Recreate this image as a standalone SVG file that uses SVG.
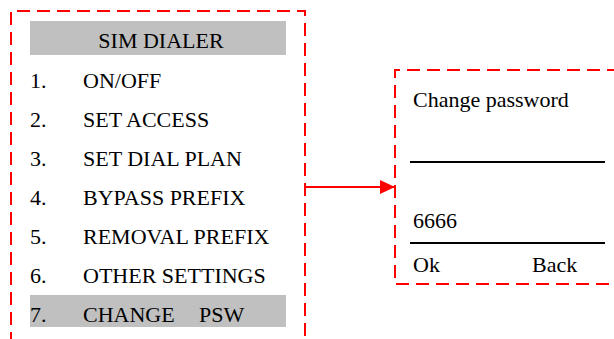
<svg xmlns="http://www.w3.org/2000/svg" width="614" height="339" viewBox="0 0 614 339">
<style>
.box{fill:none;stroke:#ff0000;stroke-width:2;stroke-dasharray:13 7}
.bar{fill:#c0c0c0}
.t{font-family:"Liberation Serif","Times New Roman",serif;font-size:22px;fill:#000}
.rule{stroke:#000;stroke-width:2}
.conn{stroke:#ff0000;stroke-width:2;fill:none}
</style>
<defs>
<marker id="arr" markerWidth="15" markerHeight="14" refX="15" refY="7" orient="auto" markerUnits="userSpaceOnUse">
<path d="M0,0 L15,7 L0,14 Z" fill="#ff0000"/>
</marker>
</defs>
<g id="menu">
<path class="box" d="M11,345 V11 H305 V345"/>
<rect class="bar" x="30" y="21" width="256" height="34"/>
<text class="t" x="161" y="48" text-anchor="middle">SIM DIALER</text>
<text class="t" x="30" y="88">1.</text><text class="t" x="83" y="88">ON/OFF</text>
<text class="t" x="30" y="127">2.</text><text class="t" x="83" y="127">SET ACCESS</text>
<text class="t" x="30" y="166">3.</text><text class="t" x="83" y="166">SET DIAL PLAN</text>
<text class="t" x="30" y="205">4.</text><text class="t" x="83" y="205">BYPASS PREFIX</text>
<text class="t" x="30" y="244">5.</text><text class="t" x="83" y="244">REMOVAL PREFIX</text>
<text class="t" x="30" y="283">6.</text><text class="t" x="83" y="283">OTHER SETTINGS</text>
<rect class="bar" x="30" y="295" width="256" height="32"/>
<text class="t" x="30" y="322">7.</text><text class="t" x="83" y="322">CHANGE</text><text class="t" x="199" y="322">PSW</text>
</g>
<g id="password">
<path class="box" d="M620,70 H395 V284 H620"/>
<text class="t" x="413" y="107">Change password</text>
<line class="rule" x1="410" y1="162" x2="605" y2="162"/>
<text class="t" x="413" y="228">6666</text>
<line class="rule" x1="410" y1="243" x2="605" y2="243"/>
<text class="t" x="413" y="272">Ok</text>
<text class="t" x="532" y="272">Back</text>
</g>
<g id="connectors">
<path class="conn" d="M305,187 H395" marker-end="url(#arr)"/>
</g>
</svg>
